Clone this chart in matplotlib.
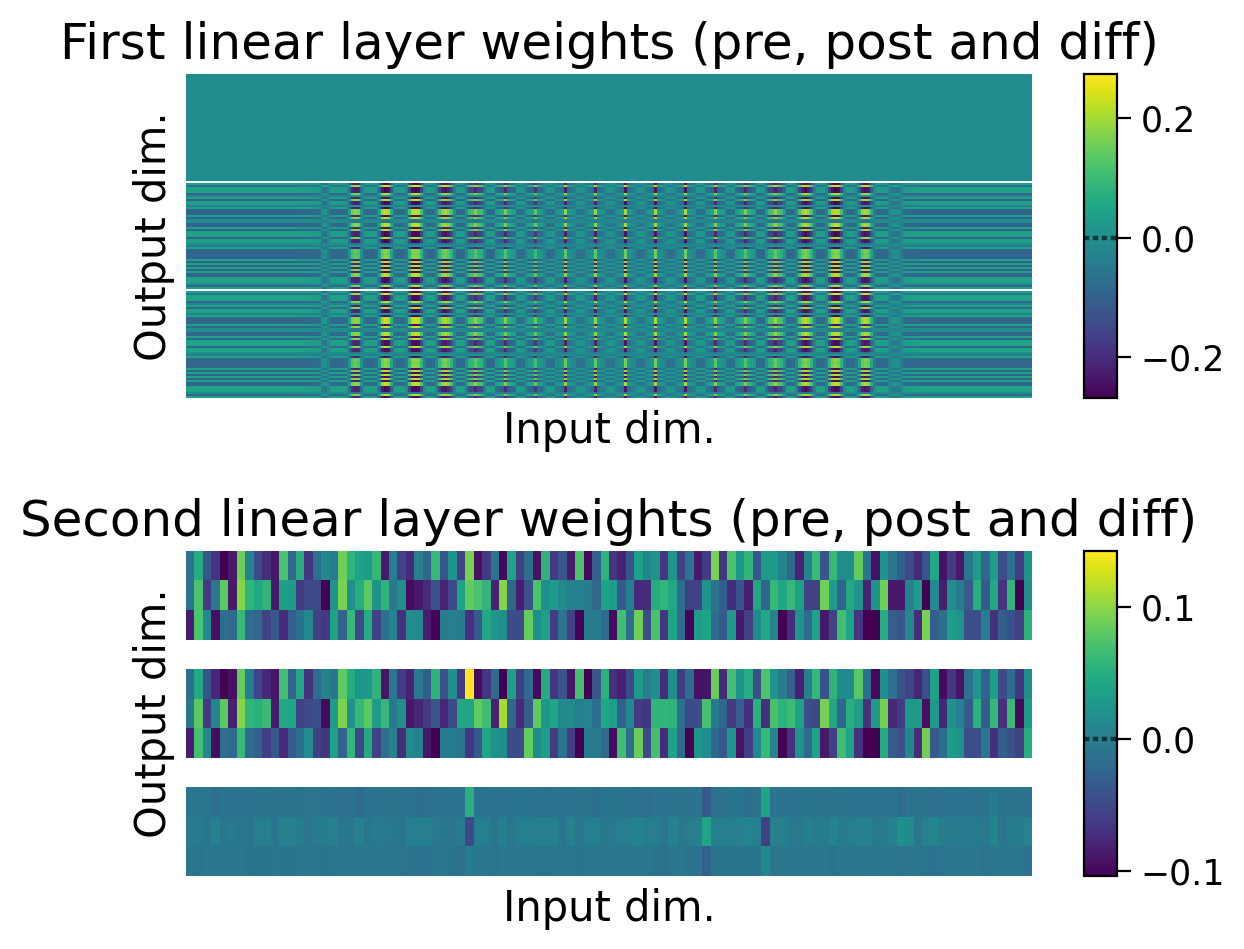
import numpy as np
import matplotlib
matplotlib.use("Agg")
import matplotlib.pyplot as plt

W, H, DPI = 1244, 949, 200

TITLES = ["First linear layer weights (pre, post and diff)",
          "Second linear layer weights (pre, post and diff)"]
XLABEL = "Input dim."
YLABEL = "Output dim."
TICKS_1 = [-0.2, 0.0, 0.2]
TICKS_2 = [-0.1, 0.0, 0.1]
RANGE_1 = (-0.268, 0.2745)
RANGE_2 = (-0.104, 0.1424)

# ---- first layer, read as row levels and a column band profile ----
PRE_LEVEL_1 = -0.005
FLAT_ROW = [0.047, -0.06, 0.047, 0.047, 0.047, -0.088, -0.03, 0.047, -0.088, 0.047,
            0.047, -0.03, 0.047, -0.088, -0.088, -0.088, 0.047, -0.088, 0.0, 0.0,
            -0.088, -0.088, 0.047, -0.088, 0.047, 0.047, 0.047, -0.088, 0.047, 0.047,
            0.0, -0.03, 0.047, -0.088, -0.088, -0.088, -0.088, -0.088, 0.047, -0.088,
            0.047, -0.088, 0.047, -0.088, 0.047, -0.088, -0.088, 0.047, 0.047, 0.047,
            0.0, -0.088, 0.047]
BAND_ROW = [1.0, -1.05, 1.0, 1.0, 1.0, -1.05, -0.2, 1.0, -1.05, 1.0,
            1.0, -0.2, 1.0, -1.05, -1.05, -1.05, 1.0, -1.05, 0.2, 0.2,
            -1.05, -1.05, 1.0, -1.05, 1.0, 1.0, 1.0, -1.05, 1.0, 1.0,
            0.2, -0.2, 1.0, -0.9, -0.9, -0.85, -0.9, -0.9, 1.0, -1.05,
            1.0, -1.05, 1.0, -1.05, 1.0, -1.05, -1.05, 1.0, 1.0, 1.0,
            0.2, -1.05, 1.0]
COL_BAND = [
    0, 0, 0, 0, 0, 0, 0, 0, 0, 0,
    0, 0, 0, 0, 0, 0, 0, 0, 0, 0,
    0, 0, 0, 0, 0, 0, 0, 0, 0, 0,
    0, 0, 0, 0, 0, 0, 0, 0, -.004, -.004,
    -.004, -.004, -.01, -.01, -.02, -.09, -.11, -.06, -.01, -.005,
    -.005, -.005, -.005, -.02, -.12, -.24, -.26, -.24, -.12, -.02,
    -.005, -.005, -.005, -.03, -.14, -.27, -.30, -.28, -.16, -.03,
    -.005, -.005, -.005, -.06, -.20, -.29, -.30, -.29, -.20, -.06,
    -.005, -.005, -.005, -.08, -.20, -.26, -.28, -.25, -.20, -.08,
    -.005, -.005, -.005, -.10, -.19, -.20, -.25, -.20, -.19, -.10,
    -.005, -.005, -.01, -.12, -.14, -.16, -.24, -.16, -.14, -.12,
    -.02, -.02, -.02, -.10, -.13, -.14, -.22, -.13, -.12, -.08,
    -.02, -.02, -.02, -.10, -.10, -.12, -.26, -.12, -.10, -.08,
    -.03, -.03, -.03, -.08, -.10, -.12, -.26, -.12, -.10, -.08,
    -.03, -.03, -.03, -.08, -.10, -.12, -.28, -.12, -.10, -.08,
    -.03, -.03, -.03, -.08, -.10, -.12, -.28, -.12, -.10, -.08,
    -.03, -.03, -.03, -.08, -.10, -.12, -.28, -.12, -.10, -.08,
    -.02, -.02, -.02, -.10, -.12, -.14, -.25, -.14, -.12, -.10,
    -.02, -.02, -.02, -.12, -.15, -.17, -.24, -.17, -.15, -.12,
    -.01, -.01, -.01, -.12, -.19, -.21, -.26, -.21, -.19, -.12,
    -.005, -.005, -.005, -.08, -.20, -.26, -.29, -.26, -.20, -.08,
    -.005, -.005, -.005, -.06, -.20, -.28, -.30, -.28, -.20, -.06,
    -.005, -.005, -.005, -.05, -.16, -.26, -.28, -.26, -.16, -.05,
    -.005, -.005, -.005, -.01, -.06, -.10, -.10, -.10, -.06, -.01,
    -.006, -.006, -.006, 0, 0, 0, 0, 0, 0, 0,
    0, 0, 0, 0, 0, 0, 0, 0, 0, 0,
    0, 0, 0, 0, 0, 0, 0, 0, 0, 0,
    0, 0, 0, 0, 0, 0, 0, 0, 0, 0,
    0, 0,
]

# ---- second layer, pre-training weights by output dimension ----
PRE_A = [-.01, .049, -.038, -.067, -.104, -.087, .088, .007, -.05, -.072,
         -.087, .073, -.023, .051, -.067, -.013, .012, -.001, .088, .056,
         .039, .031, .061, -.087, .002, -.055, -.074, .004, -.023, .061,
         -.038, .024, -.055, .093, -.092, -.062, -.01, -.099, .039, -.055,
         -.013, -.092, .056, -.062, -.038, -.084, .073, -.099, -.03, .056,
         -.067, -.079, -.042, .036, .009, .024, -.067, .024, -.055, -.01,
         -.087, -.06, .093, -.067, .073, .026, .058, -.038, .029, .029,
         .004, -.023, -.079, .007, .063, -.038, .061, .019, .019, .083,
         -.01, -.092, .024, -.006, -.03, -.05, -.074, -.038, .044, -.092,
         -.06, -.087, -.006, .031, -.023, .031, -.045, -.013, -.06, .024]
PRE_B = [-.01, .073, -.062, -.006, .08, -.087, .098, .058, .044, .056,
         -.087, .036, .031, -.062, -.05, -.05, -.104, .024, .093, .019,
         .049, .08, .024, .056, -.006, .019, -.097, -.087, -.072, -.042,
         -.079, -.05, .039, .083, .073, .058, -.079, .098, -.023, -.084,
         -.042, .073, .019, .031, .012, .002, .002, -.001, -.023, .039,
         .031, -.035, .002, -.074, -.072, .049, .058, .044, -.015, -.055,
         -.055, .024, -.01, -.03, -.072, -.04, -.084, .044, -.023, .061,
         .044, .061, .036, -.055, -.055, .088, .031, -.025, .044, .024,
         -.079, .024, .088, -.087, -.087, .007, .031, -.104, .012, -.084,
         .019, -.001, -.035, .051, -.035, .044, -.067, .058, -.104, .019]
PRE_C = [-.084, .073, .012, -.094, -.015, -.02, .063, -.015, -.023, -.055,
         -.035, -.072, -.03, -.013, .014, -.055, -.062, .039, -.025, .061,
         -.05, .049, -.055, -.013, .007, -.07, .019, .012, -.084, -.102,
         -.001, .002, -.001, -.07, -.035, .044, .026, .019, -.047, -.047,
         .085, .019, .036, -.06, -.01, -.055, -.102, -.001, -.001, -.018,
         -.097, .068, -.015, .088, -.047, .073, -.067, .039, -.018, -.102,
         .031, .039, -.018, -.035, .031, -.087, -.055, .014, .044, .007,
         -.104, -.072, .024, -.018, .039, -.087, -.055, .068, .039, -.067,
         -.104, -.104, .049, -.03, -.038, .012, -.072, .093, -.03, -.013,
         .031, .024, -.045, -.045, -.001, -.07, -.03, -.042, -.055, .056]

# ---- second layer, change during training ----
DIFF_A = [-.008, -.007, -.007, -.014, -.009, -.011, -.009, -.010, -.009, -.010,
          -.008, -.010, -.009, -.011, -.006, -.010, -.010, -.011, -.012, -.012,
          -.018, -.010, -.010, -.009, -.012, -.010, -.012, -.013, -.013, -.010,
          -.010, -.010, -.012, .05, -.010, -.010, -.012, -.009, -.008, -.008,
          -.010, -.012, -.013, -.009, -.010, -.010, -.009, -.009, -.014, -.008,
          -.008, -.008, -.012, -.012, -.013, -.010, -.010, -.009, -.010, -.010,
          -.010, -.035, -.012, -.012, -.008, -.008, -.014, -.011, .04, -.010,
          -.009, -.010, -.008, -.009, -.008, -.009, -.009, -.010, -.010, -.010,
          -.010, -.012, -.010, -.010, -.018, -.009, -.009, -.011, -.011, -.010,
          -.010, -.009, -.010, -.012, -.008, -.002, -.008, -.009, -.009, -.010]
DIFF_B = [-.003, .0, -.007, .005, -.007, -.003, -.007, -.007, .001, .001,
          -.007, .003, .003, -.001, -.007, -.001, -.001, .003, -.005, -.005,
          .005, -.007, -.003, -.003, -.005, -.007, .001, .002, .002, -.003,
          -.005, -.007, -.001, -.05, .002, .002, -.007, .004, -.007, .002,
          .002, .001, .001, .004, -.007, .003, -.007, .002, .002, -.005,
          -.003, .001, .001, .007, -.001, .001, -.007, .005, -.005, -.001,
          .003, .04, .001, .001, .002, .003, .007, .001, -.055, .003,
          .004, -.003, -.005, .003, -.001, -.003, .007, -.003, -.001, .003,
          .003, -.003, -.003, .003, .02, .013, -.007, .003, .009, -.001,
          -.003, -.001, -.003, -.003, -.005, .009, -.009, -.001, -.001, .005]
DIFF_C = [-.005, -.008, -.006, -.007, -.004, -.005, -.005, -.008, -.008, -.008,
          -.007, -.008, -.008, -.007, -.004, -.007, -.008, -.007, -.006, -.007,
          -.006, -.006, -.006, -.007, -.006, -.007, -.010, -.010, -.010, -.007,
          -.006, -.008, -.011, .0, -.006, -.007, -.008, -.005, -.006, -.006,
          -.006, -.007, -.008, -.006, -.005, -.007, -.009, -.005, -.006, -.006,
          -.005, -.006, -.006, -.006, -.006, -.008, -.011, -.006, -.006, -.008,
          -.010, -.028, -.008, -.008, -.009, -.009, -.008, -.008, .012, -.006,
          -.006, -.004, -.006, -.006, -.005, -.005, -.008, -.006, -.006, -.006,
          -.007, -.007, -.006, -.006, -.010, -.006, -.006, -.008, -.010, -.007,
          -.006, -.006, -.006, -.006, -.010, -.005, -.006, -.006, -.006, -.010]
# the post rows read slightly above pre + diff
POST_SHIFT = [.005, .007, .005]

# ---- assemble the matrices ----
flat_row = np.array(FLAT_ROW)
band_row = np.array(BAND_ROW)
col_band = np.array(COL_BAND)
diff_1 = flat_row[:, None] + band_row[:, None] * col_band[None, :]
pre_1 = np.full_like(diff_1, PRE_LEVEL_1)
post_1 = pre_1 + diff_1
gap_1 = np.full((1, diff_1.shape[1]), np.nan)
matrix_1 = np.vstack([pre_1, gap_1, post_1, gap_1, diff_1])

pre_2 = np.array([PRE_A, PRE_B, PRE_C])
diff_2 = np.array([DIFF_A, DIFF_B, DIFF_C])
post_2 = pre_2 + diff_2 + np.array(POST_SHIFT)[:, None]
gap_2 = np.full((1, pre_2.shape[1]), np.nan)
matrix_2 = np.vstack([pre_2, gap_2, post_2, gap_2, diff_2])

# ---- draw ----
plt.rcParams["font.family"] = "DejaVu Sans"
fig = plt.figure(figsize=(W / DPI, H / DPI), dpi=DPI)


def box(x0, y0, x1, y1):
    return [x0 / W, 1 - y1 / H, (x1 - x0) / W, (y1 - y0) / H]


def panel(matrix, title, vrange, ticks, y0, y1):
    ax = fig.add_axes(box(186, y0, 1032, y1))
    im = ax.imshow(matrix, aspect="auto", cmap="viridis", vmin=vrange[0], vmax=vrange[1],
                   interpolation="nearest")
    ax.set_xticks([])
    ax.set_yticks([])
    for s in ax.spines.values():
        s.set_visible(False)
    ax.set_title(title, fontsize=18, pad=5.5)
    ax.set_xlabel(XLABEL, fontsize=15, labelpad=4.5)
    ax.set_ylabel(YLABEL, fontsize=15, labelpad=4)
    cax = fig.add_axes(box(1084, y0, 1117, y1))
    cb = fig.colorbar(im, cax=cax)
    cb.set_ticks(ticks)
    cb.ax.tick_params(labelsize=12.5, length=5)
    cb.ax.axhline(0, color="k", lw=1.6, ls=(0, (1.2, 0.8)), alpha=0.6)
    return ax


panel(matrix_1, TITLES[0], RANGE_1, TICKS_1, 74, 398)
panel(matrix_2, TITLES[1], RANGE_2, TICKS_2, 551, 876)

fig.savefig("out.png", dpi=DPI)
